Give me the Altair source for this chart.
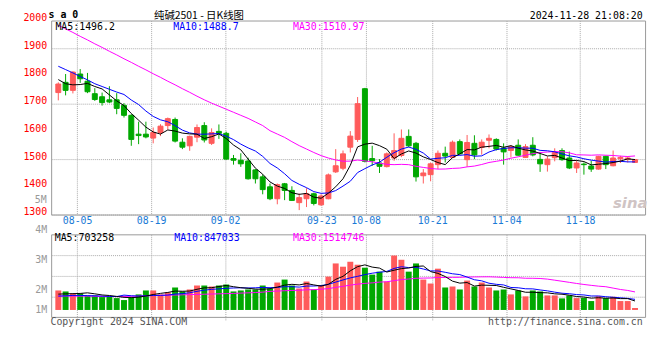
import altair as alt
import pandas as pd

# ---------------- data ----------------
dates = ["07-31", "08-01", "08-02", "08-05", "08-06", "08-07", "08-08", "08-09",
         "08-12", "08-13", "08-14", "08-15", "08-16",
         "08-19", "08-20", "08-21", "08-22", "08-23",
         "08-26", "08-27", "08-28", "08-29", "08-30",
         "09-02", "09-03", "09-04", "09-05", "09-06",
         "09-09", "09-10", "09-11", "09-12", "09-13",
         "09-18", "09-19", "09-20",
         "09-23", "09-24", "09-25", "09-26", "09-27",
         "09-30",
         "10-08", "10-09", "10-10", "10-11",
         "10-14", "10-15", "10-16", "10-17", "10-18",
         "10-21", "10-22", "10-23", "10-24", "10-25",
         "10-28", "10-29", "10-30", "10-31", "11-01",
         "11-04", "11-05", "11-06", "11-07", "11-08",
         "11-11", "11-12", "11-13", "11-14", "11-15",
         "11-18", "11-19", "11-20", "11-21", "11-22",
         "11-25", "11-26", "11-27", "11-28"]

tick_dates = ["08-05", "08-19", "09-02", "09-23", "10-08", "10-21", "11-04", "11-18"]

opens = [1740, 1777, 1748, 1807, 1781, 1736, 1725, 1714, 1714, 1694,
         1658, 1590, 1590, 1576, 1596, 1621, 1643, 1561, 1548, 1579,
         1621, 1557, 1600, 1593, 1502, 1496, 1493, 1461, 1436, 1400,
         1357, 1411, 1387, 1343, 1357, 1375, 1335, 1357, 1454, 1467,
         1543, 1571, 1754, 1502, 1486, 1473, 1504, 1513, 1582, 1557,
         1440, 1444, 1480, 1521, 1506, 1563, 1498, 1557, 1542, 1568,
         1571, 1540, 1531, 1550, 1506, 1550, 1499, 1480, 1505, 1531,
         1504, 1468, 1482, 1475, 1464, 1510, 1476, 1501, 1500, 1488]

closes = [1771, 1748, 1814, 1790, 1743, 1715, 1704, 1706, 1683, 1658,
          1571, 1585, 1580, 1596, 1619, 1646, 1565, 1543, 1582, 1614,
          1569, 1596, 1593, 1500, 1496, 1483, 1429, 1429, 1390, 1357,
          1408, 1387, 1351, 1361, 1375, 1340, 1367, 1443, 1476, 1519,
          1583, 1700, 1492, 1494, 1474, 1519, 1531, 1575, 1548, 1436,
          1450, 1483, 1521, 1511, 1561, 1519, 1560, 1515, 1561, 1575,
          1536, 1526, 1545, 1514, 1545, 1515, 1483, 1500, 1524, 1498,
          1468, 1486, 1480, 1464, 1510, 1480, 1504, 1506, 1504, 1498]

highs = [1777, 1807, 1817, 1825, 1811, 1756, 1740, 1763, 1738, 1702,
         1662, 1635, 1635, 1614, 1626, 1650, 1650, 1575, 1585, 1625,
         1633, 1611, 1625, 1599, 1515, 1521, 1505, 1464, 1444, 1412,
         1412, 1414, 1402, 1376, 1395, 1379, 1373, 1448, 1536, 1531,
         1601, 1724, 1757, 1548, 1500, 1524, 1593, 1607, 1607, 1562,
         1464, 1488, 1531, 1545, 1567, 1571, 1587, 1586, 1571, 1589,
         1575, 1557, 1550, 1571, 1554, 1579, 1526, 1510, 1539, 1539,
         1527, 1495, 1488, 1494, 1512, 1512, 1531, 1512, 1510, 1500]

lows = [1712, 1730, 1737, 1775, 1738, 1710, 1693, 1702, 1662, 1650,
        1548, 1554, 1575, 1557, 1583, 1606, 1560, 1536, 1530, 1561,
        1560, 1551, 1573, 1498, 1480, 1472, 1426, 1412, 1373, 1352,
        1337, 1352, 1349, 1316, 1327, 1333, 1331, 1355, 1450, 1460,
        1524, 1562, 1488, 1476, 1450, 1470, 1494, 1507, 1543, 1419,
        1412, 1420, 1464, 1488, 1504, 1516, 1472, 1500, 1516, 1539,
        1531, 1480, 1506, 1512, 1504, 1510, 1454, 1455, 1492, 1494,
        1464, 1450, 1444, 1454, 1462, 1464, 1474, 1486, 1488, 1486]

volumes = [1675000, 1590000, 1420000, 1420000, 1250000, 1250000, 1105000, 1190000, 1020000, 850000,
           1105000, 1335000, 1675000, 1675000, 1335000, 1505000, 1930000, 1590000, 1760000, 2100000,
           2100000, 2015000, 2100000, 2185000, 1590000, 1675000, 1760000, 1760000, 2100000, 1845000,
           2355000, 2610000, 2100000, 1845000, 2440000, 1760000, 2100000, 2865000, 3995000, 3715000,
           4140000, 3885000, 3630000, 3035000, 3290000, 2440000, 4675000, 4310000, 3290000, 3995000,
           2610000, 2270000, 3545000, 1930000, 2015000, 1760000, 2525000, 2015000, 2355000, 1930000,
           1675000, 1760000, 1335000, 1675000, 1165000, 1675000, 1590000, 1250000, 1250000, 995000,
           1250000, 1020000, 1045000, 765000, 1190000, 1020000, 1130000, 765000, 765000, 170000]

# moving-average values before a full window exists
ma5_head = [1787, 1772, 1768, 1769]
ma10_head = [1835, 1823, 1811, 1798, 1786, 1772, 1762, 1752, 1742]
ma30_head = [1983, 1970, 1957, 1943, 1930, 1916, 1903, 1889, 1876, 1862,
             1849, 1835, 1822, 1808, 1795, 1781, 1768, 1754, 1741, 1727,
             1714, 1702, 1691, 1680, 1669, 1658, 1647, 1634, 1621]
vma5_head = [1360000, 1385000, 1400000, 1420000]
vma10_head = [1190000, 1215000, 1250000, 1250000, 1230000, 1215000, 1190000, 1165000, 1150000]
vma30_head = [1190000, 1190000, 1190000, 1190000, 1190000, 1173000, 1165000, 1156000, 1148000, 1156000,
              1173000, 1190000, 1216000, 1233000, 1250000, 1267000, 1284000, 1301000, 1318000, 1335000,
              1352000, 1369000, 1386000, 1403000, 1420000, 1445000, 1471000, 1496000, 1530000]

price_ticks = [1300, 1400, 1500, 1600, 1700, 1800, 1900, 2000]
price_ma_text = ["MA5:1496.2", "MA10:1488.7", "MA30:1510.97"]
vol_ma_text = ["MA5:703258", "MA10:847033", "MA30:1514746"]
vol_label_text = ["4M", "3M", "2M", "1M"]
title_text = "纯碱2501 - 日K线图"
symbol_text = "s a 0"
time_text = "2024-11-28 21:08:20"
copyright_text = "Copyright 2024 SINA.COM"
url_text = "http://finance.sina.com.cn"

# ---------------- styles / layout ----------------
RED = "#ff5b5b"
GREEN = "#00a800"
C5, C10, C30 = "#000000", "#0000ff", "#ff00ff"
GRID = "#aaaaaa"
MONO = "DejaVu Sans Mono"
W = 600
PH = 196
VH = 83.4
VLO, VHI = -595000, 6494000
# the source places its date gridlines on a slightly wider step than the candles
GRID_STEP, GRID_SHIFT = 76 / 75, -0.47

n = len(dates)
df = pd.DataFrame(dict(i=list(range(1, n + 1)), d=dates, o=opens, h=highs,
                       l=lows, c=closes, v=volumes))


def moving(values, w, head):
    s = pd.Series(values, dtype=float).rolling(w).mean()
    s.iloc[:w - 1] = head
    return s


df["m5"] = moving(closes, 5, ma5_head)
df["m10"] = moving(closes, 10, ma10_head)
df["m30"] = moving(closes, 30, ma30_head)
df["vm5"] = moving(volumes, 5, vma5_head)
df["vm10"] = moving(volumes, 10, vma10_head)
df["vm30"] = moving(volumes, 30, vma30_head)

tick_pos = [round((dates.index(t) + 1) * GRID_STEP + GRID_SHIFT, 3) for t in tick_dates]
label_expr = " : ".join(f"abs(datum.value - {p}) < 0.01 ? '{t}'"
                        for p, t in zip(tick_pos, tick_dates)) + " : ''"

xscale = alt.Scale(domain=[0.7, n + 0.7], nice=False, zero=False)
col = alt.condition("datum.c >= datum.o", alt.value(RED), alt.value(GREEN))


def label(text, x, y, color="#000000", size=10, align="left", baseline="middle",
          font=MONO, weight="normal", style="normal"):
    return alt.Chart(pd.DataFrame({"t": [text]})).mark_text(
        align=align, baseline=baseline, font=font, fontSize=size, color=color,
        fontWeight=weight, fontStyle=style
    ).encode(x=alt.value(x), y=alt.value(y), text="t:N")


base = alt.Chart(df)

# ---------- price panel ----------
px_axis = alt.Axis(values=tick_pos, labelExpr=label_expr, grid=True, gridDash=[1, 1],
                   gridColor=GRID, ticks=False, domain=False, labelColor="#1a7ad6",
                   labelFont=MONO, labelFontSize=10, labelPadding=1, labelFlush=False,
                   labelOverlap=False, title="")
py_axis = alt.Axis(values=price_ticks, labels=False, ticks=False, domain=False, grid=True,
                   gridDash=[1, 1], gridColor=GRID, title="")
pyscale = alt.Scale(domain=[1300, 2000], nice=False, zero=False)

wick = base.mark_rule(strokeWidth=1).encode(
    x=alt.X("i:Q", scale=xscale, axis=px_axis),
    y=alt.Y("l:Q", scale=pyscale, axis=py_axis),
    y2="h:Q", color=col)
body = base.mark_bar(width=5, strokeWidth=1).encode(
    x="i:Q", y="o:Q", y2="c:Q", fill=col, stroke=col)
m30 = base.mark_line(color=C30, strokeWidth=1).encode(x="i:Q", y="m30:Q")
m10 = base.mark_line(color=C10, strokeWidth=1).encode(x="i:Q", y="m10:Q")
m5 = base.mark_line(color=C5, strokeWidth=1).encode(x="i:Q", y="m5:Q")

# price tick labels, placed through the price scale
ylabels = alt.Chart(pd.DataFrame({"p": price_ticks})).mark_text(
    align="right", baseline="middle", font=MONO, fontSize=10, color="#ff0000", dy=-2.5
).encode(x=alt.value(-4), y=alt.Y("p:Q"), text=alt.Text("p:Q", format="d"))

price_texts = [
    label(symbol_text, -2.7, -10.3, size=10, weight="bold", baseline="top"),
    label(title_text, 149.3, -9.3, size=10.5, align="center", baseline="top",
          font="Noto Sans CJK SC"),
    label(time_text, 597.6, -9.8, align="right", baseline="top"),
    label(price_ma_text[0], 4.3, 6.8, color=C5),
    label(price_ma_text[1], 123.3, 6.8, color=C10),
    label(price_ma_text[2], 244.3, 6.8, color=C30),
    label("5M", -4.5, 181.5, color="#999999", align="right"),
    label("sina", 585, 184, color="#cfc4c4", size=15, align="center", weight="bold",
          style="italic", font="DejaVu Sans"),
]

price = alt.layer(wick, body, m30, m10, m5, ylabels, *price_texts).properties(width=W, height=PH)

# ---------- volume panel ----------
quarters = [VLO + (VHI - VLO) * k / 4 for k in (1, 2, 3)]
vx_axis = alt.Axis(values=tick_pos, labels=False, grid=True, gridDash=[1, 1], gridColor=GRID,
                   ticks=True, tickSize=4, tickDash=[1, 1], tickColor=GRID, domain=False, title="")
vy_axis = alt.Axis(values=quarters, labels=False, ticks=False, domain=False, grid=True,
                   gridDash=[1, 1], gridColor=GRID, title="")
vyscale = alt.Scale(domain=[VLO, VHI], nice=False, zero=False)

vbar = base.mark_bar(width=6).encode(
    x=alt.X("i:Q", scale=xscale, axis=vx_axis),
    y=alt.Y("v:Q", scale=vyscale, axis=vy_axis),
    y2=alt.datum(0), fill=col)
v30 = base.mark_line(color=C30, strokeWidth=1).encode(x="i:Q", y="vm30:Q")
v10 = base.mark_line(color=C10, strokeWidth=1).encode(x="i:Q", y="vm10:Q")
v5 = base.mark_line(color=C5, strokeWidth=1).encode(x="i:Q", y="vm5:Q")

vol_label_y = [-4.0, 26.4, 56.4, 76.4]
vol_texts = [label(t, -4, yy, color="#999999", align="right")
             for t, yy in zip(vol_label_text, vol_label_y)]
vol_texts += [
    label(vol_ma_text[0], 3.6, 4.0, color=C5),
    label(vol_ma_text[1], 124.3, 4.0, color=C10),
    label(vol_ma_text[2], 244.3, 4.0, color=C30),
    label(copyright_text, -0.7, 89, color="#555555"),
    label(url_text, 597.6, 89, color="#555555", align="right"),
]

volume = alt.layer(vbar, v30, v10, v5, *vol_texts).properties(width=W, height=VH)

chart = alt.vconcat(price, volume, spacing=20, bounds="flush").properties(
    padding={"left": 14.6, "top": 0, "right": 4, "bottom": 2},
    background="#ffffff",
).configure_view(stroke="#999999", strokeWidth=1)

chart.save("out.html", embed_options={"renderer": "svg", "actions": False})
